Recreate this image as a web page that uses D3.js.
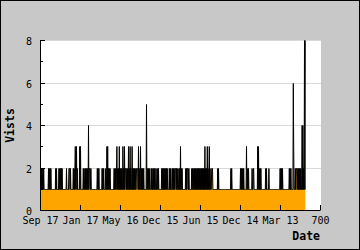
<!DOCTYPE html>
<html>
<head>
<meta charset="utf-8">
<script src="https://cdn.jsdelivr.net/npm/d3@7"></script>
<style>
body{margin:0;background:#fff;}
svg{display:block;}
</style>
</head>
<body>
<svg id="chart" width="360" height="250"></svg>
<script>
// visits per day, one array for each 100 days of the x axis
var visits000 = [2,1,2,1,2,1,2,1,2,1, 1,1,1,1,1,1,1,1,1,1, 2,1,2,1,2,1,2,1, 1,1,1,1,1,1,1,1,1,1,
    2,1,2, 1,1,1,1,1, 2,1,2,1,2,1,2,1,2,1, 1,1,1,1,1,1,1,1,1, 2, 1,1,1,1,1, 2,2,2,1,2,1,
    1,1,1,1,1, 2,1,2,1,2,3,1,2,3,1,2, 1,1,1,1,1, 3,1];
var visits100 = [3, 1,1,1,1,1,1, 2,1,2,1,1,2,1,2,1,2,1,2, 1, 4, 1, 2,2,2, 1, 2,
    1,1,1,1,1,1,1,1,1,1,1,1,1,1,1, 2,1,2,1,2,1, 1,1,1,1,1,1, 2,1,2,1,2,1, 1,1,1,
    2,1,1,3,1,3,1,2,1,2,1,2,1, 1,1,1,1,1,1,1,1, 2,1,2,1,2,1,2,3,1,2,1,2,1,3,1,2];
var visits200 = [1,2,1,2,1,1,3,1,2,1, 3,1,2,2,2,1,2,1,2,1, 3,1,2,1,3,1,2,1,1,3, 1,2,1,2,1,2,1,2,1,1,
    2,2,2,2, 1,3,1,2,1,1,3,1,2,1, 2,1,2,1,2,1,1, 1,1,1,1, 5, 1,1, 2,1,2,1,1,2, 1,1,1,
    2,1,2,1,1,2,1,2,1,2,1,1,2,1, 1,1, 2,1,2,1,1, 1,1];
var visits300 = [1,1,1, 2,1,2,1,2,1,2,1,2,1,2,1,2,1,2, 1,1,1,1, 2,1,2,1,2, 1,1,1,
    2,1,2,1,2,1,2,2,2,1,2,1,2, 1,1,1, 2,1,2,1,3,1,2,1,2, 1,1,1,1,1,1,1,1,
    2,1,2,1,2,2,2,1,2,1, 1,1,1,1, 1,2,1,2,1, 1, 2,1,2,1,2,1,2,1,2,1,2,1,2,1,2,1,2];
var visits400 = [1,2,1,2,1,2,1,2,1,2,1,3,1,2,1,2,1,3,1,2,1,2,3,1,2,1, 1,1, 2,2,2,1,
    1,1,1,1,1,1,1,1,1,1,1, 2,1,2,1,
    1,1,1,1,1,1,1,1,1,1,1,1,1,1,1,1,1,1,1,1,1,1,1,1,1,1,1,1,1, 2,1,2,1,
    1,1,1,1,1,1,1,1,1,1,1,1,1,1,1,1,1,1,1,1];
var visits500 = [2,1,2,1,2,1,2,1,2, 1,1,1,1,1,1, 3, 1,1, 2,1,2,1, 1,1,1,1,1,1,1, 2,1,1,2,2,1,
    1,1,1,1,1,1,1,1, 3,1,3, 1,2,1,2,1,2,1,1, 1,1,1,1,1,1,1,1,1, 2,1,2,1, 1,1,1,1, 2,
    1,1,1,1,1,1,1,1,1,1,1,1,1,1,1,1,1,1,1,1,1,1,1,1,1,1,1, 2];
var visits600 = [1,2,1,2,1,2,1, 1,1,1,1,1,1,1,1,1,1,1,1,1,1,1, 2,1,2,1,2,1, 1,1,1, 1,6,3,1, 1,1,
    2,1,2,2,2,1, 2,1,2,1,2,1,2,1,2,1, 1,4,1,4,1,2,1, 8,1,8];

var xTicks = [0, 100, 200, 300, 400, 500, 600, 700];
var xTickLabels = ["Sep 17", "Jan 17", "May 16", "Dec 15", "Jun 15", "Dec 14", "Mar 13", "700"];
var yTicks = [0, 2, 4, 6, 8];
var yMinorTicks = [1, 3, 5, 7];
var gridValues = [2, 4, 6, 8];
var xTitle = "Date";
var yTitle = "Vists";

var visits = [].concat(visits000, visits100, visits200, visits300, visits400, visits500, visits600);

var svg = d3.select("#chart");
var font = "'DejaVu Sans Mono', monospace";

var x = d3.scaleLinear().domain([0, 700]).range([40, 320]);
var y = d3.scaleLinear().domain([0, 8]).range([210, 40]).interpolate(d3.interpolateRound);

// page background and frame
svg.append("rect")
    .attr("x", 0.5).attr("y", 0.5)
    .attr("width", 359).attr("height", 249)
    .attr("fill", "#c8c8c8")
    .attr("stroke", "#000");

// plot area
svg.append("rect")
    .attr("x", 40).attr("y", 40)
    .attr("width", 281).attr("height", 170)
    .attr("fill", "#fff");

svg.append("g")
    .selectAll("line")
    .data(gridValues)
    .enter()
    .append("line")
    .attr("x1", 41).attr("x2", 321)
    .attr("y1", function(d){ return y(d) + 0.5; })
    .attr("y2", function(d){ return y(d) + 0.5; })
    .attr("stroke", "#d9d9d9");

var plot = svg.append("g").attr("transform", "translate(0.5,0.5)");

var area = d3.area()
    .x(function(d, i){ return x(i); })
    .y0(y(0))
    .y1(function(d){ return y(d); });

var line = d3.line()
    .x(function(d, i){ return x(i); })
    .y(function(d){ return y(d); });

plot.append("path")
    .datum(visits)
    .attr("d", area)
    .attr("fill", "#ffa500");

plot.append("path")
    .datum(visits)
    .attr("d", line)
    .attr("fill", "none")
    .attr("stroke", "#000")
    .attr("stroke-width", 1);

// axes
var xAxis = svg.append("g")
    .attr("transform", "translate(0,210)")
    .call(d3.axisBottom(x)
        .tickValues(xTicks)
        .tickSize(-5)
        .tickSizeOuter(0)
        .tickPadding(7)
        .tickFormat(function(d, i){ return xTickLabels[i]; }));

var yAxis = svg.append("g")
    .attr("transform", "translate(40,0)")
    .call(d3.axisLeft(y)
        .tickValues(yTicks)
        .tickSize(-5)
        .tickSizeOuter(0)
        .tickPadding(8));

var yMinor = svg.append("g")
    .attr("transform", "translate(40,0)")
    .call(d3.axisLeft(y)
        .tickValues(yMinorTicks)
        .tickSize(-3)
        .tickFormat(""));
yMinor.select(".domain").remove();

svg.selectAll(".tick line, .domain").attr("stroke", "#000");
svg.selectAll(".tick text")
    .attr("fill", "#000")
    .style("font-family", font)
    .style("font-size", "10px");
yAxis.selectAll(".tick text").attr("dy", "0.4em");

svg.append("text")
    .attr("x", 320)
    .attr("y", 240)
    .attr("text-anchor", "end")
    .style("font-family", font)
    .style("font-size", "11.5px")
    .style("font-weight", "bold")
    .text(xTitle);

svg.append("text")
    .attr("transform", "translate(14,125.5) rotate(-90)")
    .attr("text-anchor", "middle")
    .style("font-family", font)
    .style("font-size", "11.5px")
    .style("font-weight", "bold")
    .text(yTitle);
</script>
</body>
</html>
